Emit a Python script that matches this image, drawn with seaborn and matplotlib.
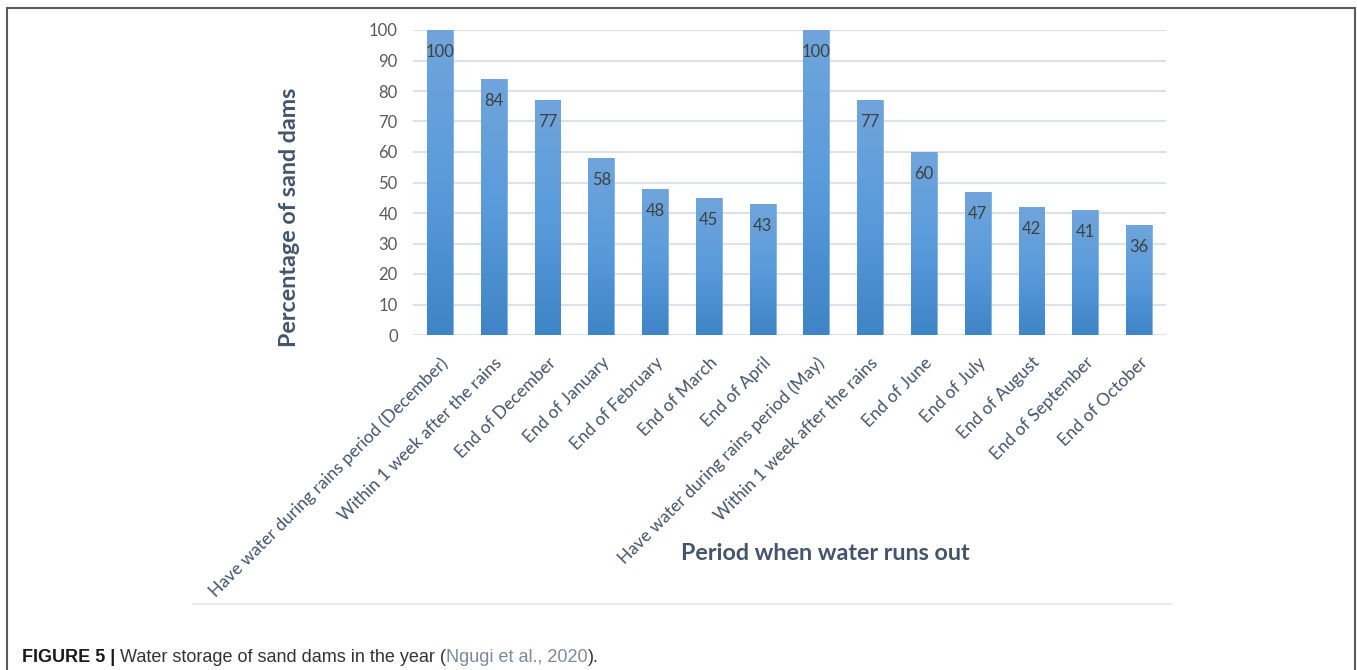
import matplotlib
matplotlib.use('Agg')
import matplotlib.pyplot as plt
from matplotlib.colors import LinearSegmentedColormap
from matplotlib.lines import Line2D
import seaborn as sns
import numpy as np
import pandas as pd

periods = [
    "Have water during rains period (December)",
    "Within 1 week after the rains",
    "End of December",
    "End of January",
    "End of February",
    "End of March",
    "End of April",
    "Have water during rains period (May)",
    "Within 1 week after the rains",
    "End of June",
    "End of July",
    "End of August",
    "End of September",
    "End of October",
]
percent = [100, 84, 77, 58, 48, 45, 43, 100, 77, 60, 47, 42, 41, 36]
y_ticks = [0, 10, 20, 30, 40, 50, 60, 70, 80, 90, 100]

df = pd.DataFrame({"slot": list(range(len(periods))), "pct": percent})

sns.set_theme(style="white")
plt.rcParams['font.family'] = ['Lato', 'DejaVu Sans']

fig = plt.figure(figsize=(13.57, 6.70), dpi=100)
ax = fig.add_axes([413 / 1357, 1 - 335 / 670, (1166 - 413) / 1357, 305 / 670])

sns.barplot(data=df, x="slot", y="pct", color="#5b9bd5", width=0.48,
            saturation=1, ax=ax, zorder=3)

# vertical gradient on each bar, like the Excel fill
grad_cmap = LinearSegmentedColormap.from_list("bar", ["#3f84c6", "#5a9bdb", "#70a5dc"])
grad = np.linspace(0, 1, 256).reshape(-1, 1)
for p in ax.patches:
    x0, y0 = p.get_x(), p.get_y()
    w, h = p.get_width(), p.get_height()
    im = ax.imshow(grad, cmap=grad_cmap, origin="lower", aspect="auto",
                   extent=[x0, x0 + w, y0, y0 + h], zorder=4)
    im.set_clip_path(p)
    p.set_edgecolor("#7fb2e3")
    p.set_linewidth(0.6)

for i, v in enumerate(percent):
    ax.annotate(str(v), xy=(i, v), xytext=(0, -16), textcoords="offset points",
                ha="center", va="center", fontsize=12, color="#404040", zorder=6)

ax.set_xlim(-0.5, len(periods) - 0.5)
ax.set_ylim(0, 100)
ax.set_yticks(y_ticks)
ax.tick_params(axis="y", labelsize=12, labelcolor="#595959", length=0, pad=11)
ax.tick_params(axis="x", length=0, pad=14)
ax.set_xticks(range(len(periods)))
ax.set_xticklabels(periods, rotation=45, ha="right", va="top",
                   rotation_mode="anchor", fontsize=12.5, color="#44546a")
ax.yaxis.grid(True, color="#dde2ea", linewidth=1.5, zorder=0)
ax.set_axisbelow(True)
for s in ax.spines.values():
    s.set_visible(False)
ax.set_xlabel("")
ax.set_ylabel("")

fig.text(290 / 1357, 1 - 217 / 670, "Percentage of sand dams", rotation=90,
         ha="center", va="center", fontsize=16.8, fontweight="bold", color="#44546a")
fig.text(825 / 1357, 1 - 553 / 670, "Period when water runs out",
         ha="center", va="center", fontsize=16.8, fontweight="bold", color="#44546a")

# chart area bottom edge and page frame
fig.add_artist(Line2D([193 / 1357, 1172 / 1357], [1 - 604 / 670] * 2,
                      transform=fig.transFigure, color="#e3e7ee", lw=1.2))
frame = dict(transform=fig.transFigure, color="#5a5a5a", lw=1.5)
fig.add_artist(Line2D([7 / 1357, 1355 / 1357], [1 - 8 / 670] * 2, **frame))
fig.add_artist(Line2D([7 / 1357] * 2, [0, 1 - 8 / 670], **frame))
fig.add_artist(Line2D([1355 / 1357] * 2, [0, 1 - 8 / 670], **frame))

cap_font = ['Liberation Sans Narrow', 'Liberation Sans', 'DejaVu Sans']
t1 = fig.text(22 / 1357, 1 - 662 / 670, "FIGURE 5 |", family=cap_font,
              fontsize=13, fontweight="bold", color="#1a1a1a")
t2 = fig.text(0, 0, " Water storage of sand dams in the year (", family=cap_font,
              fontsize=13, color="#333333")
t3 = fig.text(0, 0, "Ngugi et al., 2020", family=cap_font, fontsize=13, color="#7d8a99")
t4 = fig.text(0, 0, ").", family=cap_font, fontsize=13, color="#333333")
fig.canvas.draw()
r = fig.canvas.get_renderer()
prev = t1
for t in (t2, t3, t4):
    bb = prev.get_window_extent(r)
    t.set_position((bb.x1 / fig.bbox.width, t1.get_position()[1]))
    fig.canvas.draw()
    prev = t

fig.savefig("out.png", dpi=100)
